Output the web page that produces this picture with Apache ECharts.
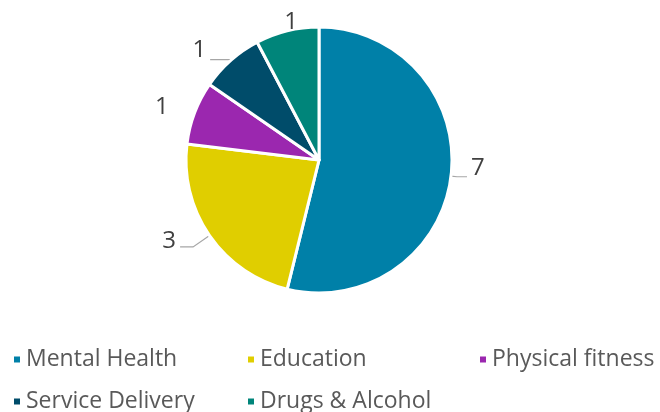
<!DOCTYPE html>
<html>
<head>
<meta charset="utf-8">
<script src="https://cdn.jsdelivr.net/npm/echarts@6/dist/echarts.min.js"></script>
<style>
  html, body { margin: 0; padding: 0; background: #fff; }
  #chart { width: 660px; height: 412px; }
</style>
</head>
<body>
<div id="chart"></div>
<script>
// Topic categories and counts
const categories = ['Mental Health', 'Education', 'Physical fitness', 'Service Delivery', 'Drugs & Alcohol'];
const counts = [7, 3, 1, 1, 1];
const colors = ['#0080A8', '#E0CE00', '#9B27AF', '#004C6A', '#00857A'];

const FONT = 'Open Sans';

// Leader-line style per slice (some labels sit beside the slice without a line);
// lift raises the number above the end of its leader line
const leaderStyles = [
  { show: true, length: 6, length2: 10, lift: 9 },
  { show: true, length: 20, length2: 13, lift: 6 },
  { show: false, length: 16, length2: 7, lift: 0 },
  { show: true, length: 1, length2: 20, lift: 10 },
  { show: false, length: 9, length2: -17, lift: 0 }
];

// One legend component per entry so the entries sit on a fixed grid
const legendSpots = [
  { left: 12, top: 348 },
  { left: 246, top: 348 },
  { left: 478, top: 348 },
  { left: 12, top: 390 },
  { left: 246, top: 390 }
];
const legends = categories.map((name, i) => ({
  data: [name],
  left: legendSpots[i].left,
  top: legendSpots[i].top,
  icon: 'rect',
  itemWidth: 8,
  itemHeight: 8,
  itemGap: 8,
  padding: 0,
  textStyle: { fontFamily: FONT, fontSize: 23, color: '#595959' }
}));

const chart = echarts.init(document.getElementById('chart'), null, { renderer: 'canvas' });
chart.setOption({
  animation: false,
  color: colors,
  legend: legends,
  series: [{
    type: 'pie',
    center: [319, 160],
    radius: [0, 133],
    startAngle: 90,
    clockwise: true,
    avoidLabelOverlap: false,
    itemStyle: { borderColor: '#fff', borderWidth: 3 },
    label: {
      show: true,
      formatter: '{c}',
      fontFamily: FONT,
      fontSize: 24,
      color: '#404040',
      distanceToLabelLine: 4
    },
    labelLayout: function (params) {
      return { dy: -leaderStyles[params.dataIndex].lift };
    },
    labelLine: {
      show: true,
      lineStyle: { color: '#A6A6A6', width: 1.2 }
    },
    data: categories.map((name, i) => ({
      name,
      value: counts[i],
      labelLine: {
        show: leaderStyles[i].show,
        length: leaderStyles[i].length,
        length2: leaderStyles[i].length2
      }
    }))
  }]
});
</script>
</body>
</html>
